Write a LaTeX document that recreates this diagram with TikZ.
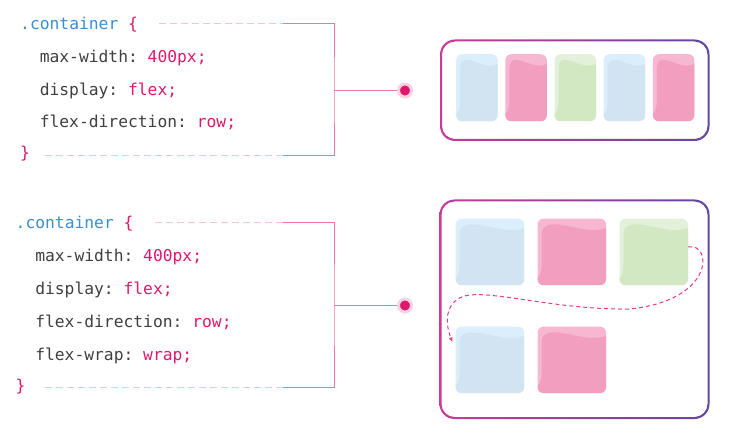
\documentclass[tikz,border=0pt]{standalone}
\usepackage{fontspec}
\setmonofont{DejaVu Sans Mono}
\usepackage{tikz}
\usetikzlibrary{positioning,calc,arrows.meta}
\definecolor{codeblue}{HTML}{3A8ED3}
\definecolor{codepink}{HTML}{E0186C}
\definecolor{codegray}{HTML}{3F3F3F}
\definecolor{dashpink}{HTML}{F8C2D7}
\definecolor{linepink}{HTML}{EF72A8}
\definecolor{frameleft}{HTML}{CB3A98}
\definecolor{frameright}{HTML}{6447A2}
\definecolor{blueA}{HTML}{DAEEFB}
\definecolor{blueB}{HTML}{D2E4F2}
\definecolor{pinkA}{HTML}{F7B7D1}
\definecolor{pinkB}{HTML}{F29FBF}
\definecolor{greenA}{HTML}{E4F1DA}
\definecolor{greenB}{HTML}{D2E8C3}
\newcommand{\cardshine}[1]{%
  \fill[#1, sharp corners] let \p1=(path picture bounding box.north west),
    \p2=(path picture bounding box.south east) in
    ({\x1-1pt},{\y2-1pt}) -- ({\x1-1pt},{\y2+6pt})
    .. controls ({\x1+4pt},{\y2+10pt}) and ({\x1+4pt},{\y2+16pt}) .. ({\x1+4pt},{\y2+26pt})
    -- ({\x1+4pt},{\y1-16pt})
    .. controls ({\x1+4pt},{\y1-6pt}) and ({\x1+0.18*(\x2-\x1)},{\y1-5pt}) .. ({\x1+0.32*(\x2-\x1)},{\y1-6pt})
    .. controls ({\x1+0.55*(\x2-\x1)},{\y1-8pt}) and ({\x1+0.8*(\x2-\x1)},{\y1-15pt}) .. ({\x2+1pt},{\y1-9pt})
    -- ({\x2+1pt},{\y2-1pt}) -- cycle;}
\tikzstyle{code} = [anchor=base west, inner sep=0pt, font=\ttfamily\fontsize{16.3}{20}\selectfont, text=codegray]
\tikzstyle{bracket} = [draw=linepink, line width=1pt]
\tikzstyle{dashes} = [draw=dashpink, line width=1pt, dash pattern=on 7pt off 4pt]
\tikzstyle{frame} = [left color=frameleft, right color=frameright, even odd rule]
\tikzset{
 card/.style
  = {rectangle, inner sep=0pt, rounded corners=6pt, fill=#1A, path picture={\cardshine{#1B}}},
 slim/.style
  = {minimum width=41.5pt, minimum height=67pt},
 wide/.style
  = {minimum width=68.5pt, minimum height=66.5pt},
 dot/.style
  = {circle, fill=codepink, draw=codepink!20, line width=3pt, inner sep=0pt, minimum size=13pt},
 flow/.style
  = {draw=codepink!85, line width=1pt, dash pattern=on 4pt off 3pt, -{Latex[length=5pt,width=4pt]}},
}
\begin{document}
\begin{tikzpicture}[x=1pt, y=-1pt]
\useasboundingbox (0,0) rectangle (736,438);

\node (sel1) [code] at (20,29.5) {\textcolor{codeblue}{.container} \textcolor{codepink}{\{}};
\node (maxw1) [code] at (39.6,63) {max-width: \textcolor{codepink}{400px;}};
\node (disp1) [code] at (39.6,95.5) {display: \textcolor{codepink}{flex;}};
\node (dir1) [code] at (39.6,128) {flex-direction: \textcolor{codepink}{row;}};
\node (close1) [code] at (20,159) {\textcolor{codepink}{\}}};

\node (sel2) [code] at (15.5,228.5) {\textcolor{codeblue}{.container} \textcolor{codepink}{\{}};
\node (maxw2) [code] at (35.1,262) {max-width: \textcolor{codepink}{400px;}};
\node (disp2) [code] at (35.1,294.5) {display: \textcolor{codepink}{flex;}};
\node (dir2) [code] at (35.1,327) {flex-direction: \textcolor{codepink}{row;}};
\node (wrap2) [code] at (35.1,360) {flex-wrap: \textcolor{codepink}{wrap;}};
\node (close2) [code] at (15.5,391) {\textcolor{codepink}{\}}};

\coordinate (dashtop1) at (159,24);
\coordinate (dashbot1) at (45,156);
\coordinate (open1) at (283,24);
\coordinate (shut1) at (283,156);
\coordinate (mid1) at (334,90.5);
\coordinate (dashtop2) at (155,223);
\coordinate (dashbot2) at (45,387);
\coordinate (open2) at (283,223);
\coordinate (shut2) at (283,387);
\coordinate (mid2) at (334,305.5);

\node (dot1) [dot] at (405,90.5) {};
\node (dot2) [dot] at (405,305.5) {};

\draw [dashes] (dashtop1) -- (open1);
\draw [dashes] (dashbot1) -- (shut1);
\draw [bracket] (open1) -| (mid1) |- (shut1);
\draw [bracket] (mid1) -- (dot1);
\draw [dashes] (dashtop2) -- (open2);
\draw [dashes] (dashbot2) -- (shut2);
\draw [bracket] (open2) -| (mid2) |- (shut2);
\draw [bracket] (mid2) -- (dot2);

\shade [frame] [rounded corners=15pt] (440,39.5) rectangle (709.5,141) [rounded corners=13pt] (442,41.5) rectangle (707.5,139);
\shade [frame] [rounded corners=15pt] (439.5,199.5) rectangle (709.5,419) [rounded corners=13pt] (441.5,201.5) rectangle (707.5,417);

\node (item1) [card=blue, slim, anchor=north west] at (456,54) {};
\node (item2) [card=pink, slim, right=7.25pt of item1] {};
\node (item3) [card=green, slim, right=7.25pt of item2] {};
\node (item4) [card=blue, slim, right=7.25pt of item3] {};
\node (item5) [card=pink, slim, right=7.25pt of item4] {};

\node (box1) [card=blue, wide, anchor=north west] at (455.5,218.5) {};
\node (box2) [card=pink, wide, right=13pt of box1] {};
\node (box3) [card=green, wide, right=13pt of box2] {};
\node (box4) [card=blue, wide, below=41pt of box1] {};
\node (box5) [card=pink, wide, right=13pt of box4] {};

\draw [flow] ([yshift=5pt]box3.east) .. controls (712,242) and (716,300) .. (630,309)
  .. controls (560,310) and (500,292) .. (470,295)
  .. controls (450,297) and (442,315) .. ([xshift=-3pt,yshift=-16pt]box4.north west);
\end{tikzpicture}
\end{document}
